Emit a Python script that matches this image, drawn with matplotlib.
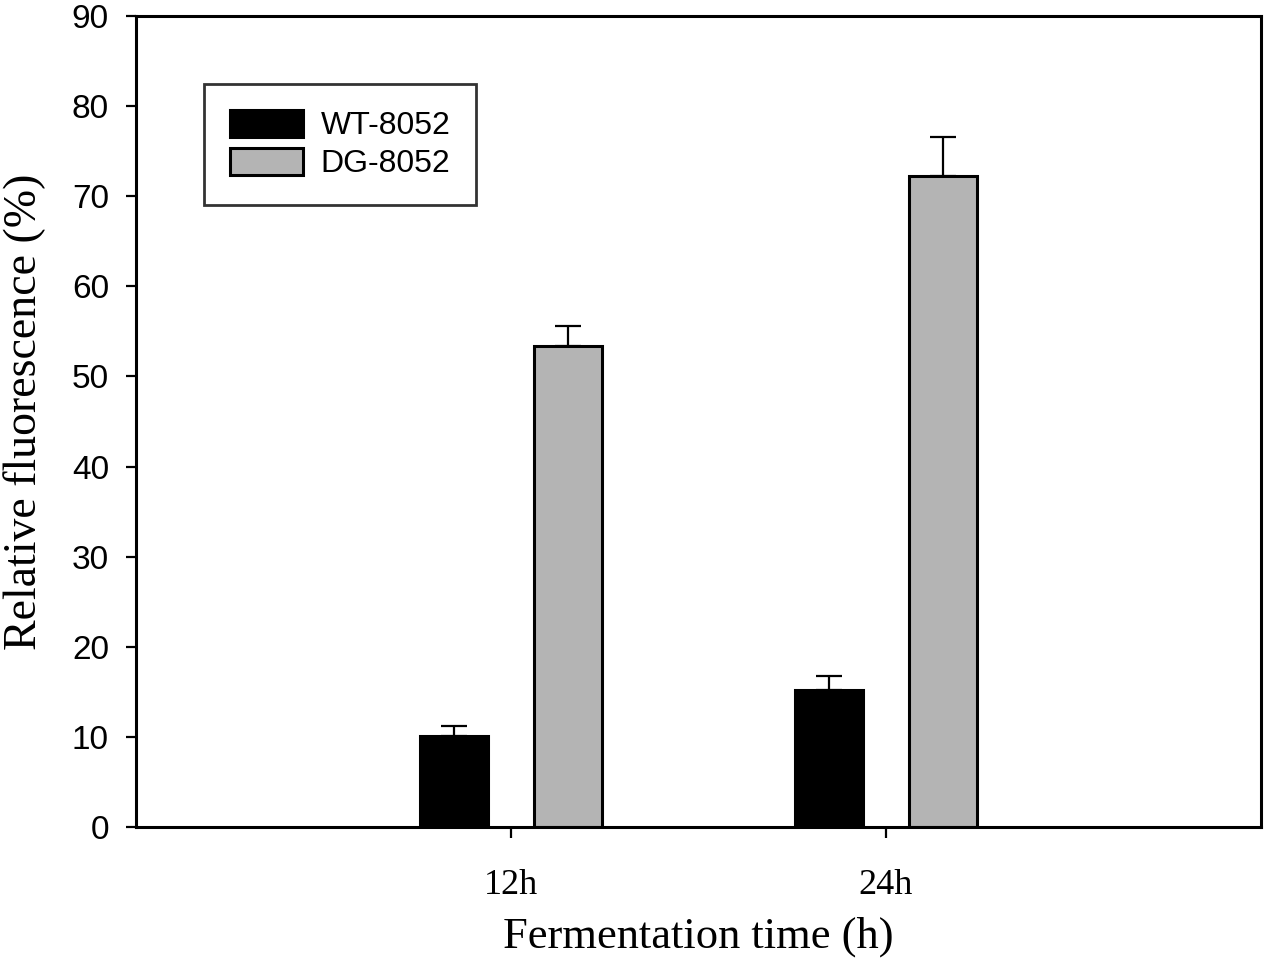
import matplotlib
matplotlib.use("Agg")
import matplotlib.pyplot as plt
import numpy as np

categories = ["12h", "24h"]
series_names = ["WT-8052", "DG-8052"]
wt_values = [10.1, 15.2]
dg_values = [53.4, 72.2]
wt_err = [1.1, 1.6]
dg_err = [2.2, 4.4]
y_ticks = [0, 10, 20, 30, 40, 50, 60, 70, 80, 90]

fig = plt.figure(figsize=(12.67, 9.63), dpi=100)
ax = fig.add_axes([136/1267, 1 - 827/963, (1261-136)/1267, (827-16)/963])

x = np.arange(1, len(categories) + 1)
width = 0.181
off = 0.151
lw = 2.2
ax.bar(x - off, wt_values, width, color="black", edgecolor="black", linewidth=lw,
       label=series_names[0], zorder=2)
ax.bar(x + off, dg_values, width, color="#b4b4b4", edgecolor="black", linewidth=lw,
       label=series_names[1], zorder=2)
ax.errorbar(x - off, wt_values, yerr=[np.zeros(len(wt_err)), wt_err], fmt="none",
            ecolor="black", elinewidth=1.6, capsize=9.5, capthick=1.6, zorder=1)
ax.errorbar(x + off, dg_values, yerr=[np.zeros(len(dg_err)), dg_err], fmt="none",
            ecolor="black", elinewidth=1.6, capsize=9.5, capthick=1.6, zorder=1)

ax.set_xlim(0, 3)
ax.set_ylim(0, 90)
ax.set_yticks(y_ticks)
ax.set_yticklabels([str(v) for v in y_ticks], fontfamily="Liberation Sans", fontsize=24)
ax.set_xticks(x)
ax.set_xticklabels(categories, fontfamily="Liberation Serif", fontsize=26)
for s in ax.spines.values():
    s.set_linewidth(2.2)
ax.tick_params(axis="y", direction="out", length=7.5, width=1.6, pad=12)
ax.tick_params(axis="x", direction="out", length=8, width=1.6, pad=22)

ax.set_xlabel("Fermentation time (h)", fontfamily="Liberation Serif", fontsize=32, labelpad=11)
ax.set_ylabel("Relative fluorescence (%)", fontfamily="Liberation Serif", fontsize=33)
ax.yaxis.set_label_coords(-0.080, 0.512)

leg = ax.legend(loc="upper left", bbox_to_anchor=((204-136)/1125, (827-84)/811),
                prop={"family": "Liberation Sans", "size": 23}, frameon=True, fancybox=False,
                handlelength=2.3, handleheight=0.95, borderpad=0.8, labelspacing=0.2,
                handletextpad=0.55, borderaxespad=0)
leg.get_frame().set_edgecolor("black")
leg.get_frame().set_linewidth(2.0)

fig.savefig("out.png", dpi=100)
